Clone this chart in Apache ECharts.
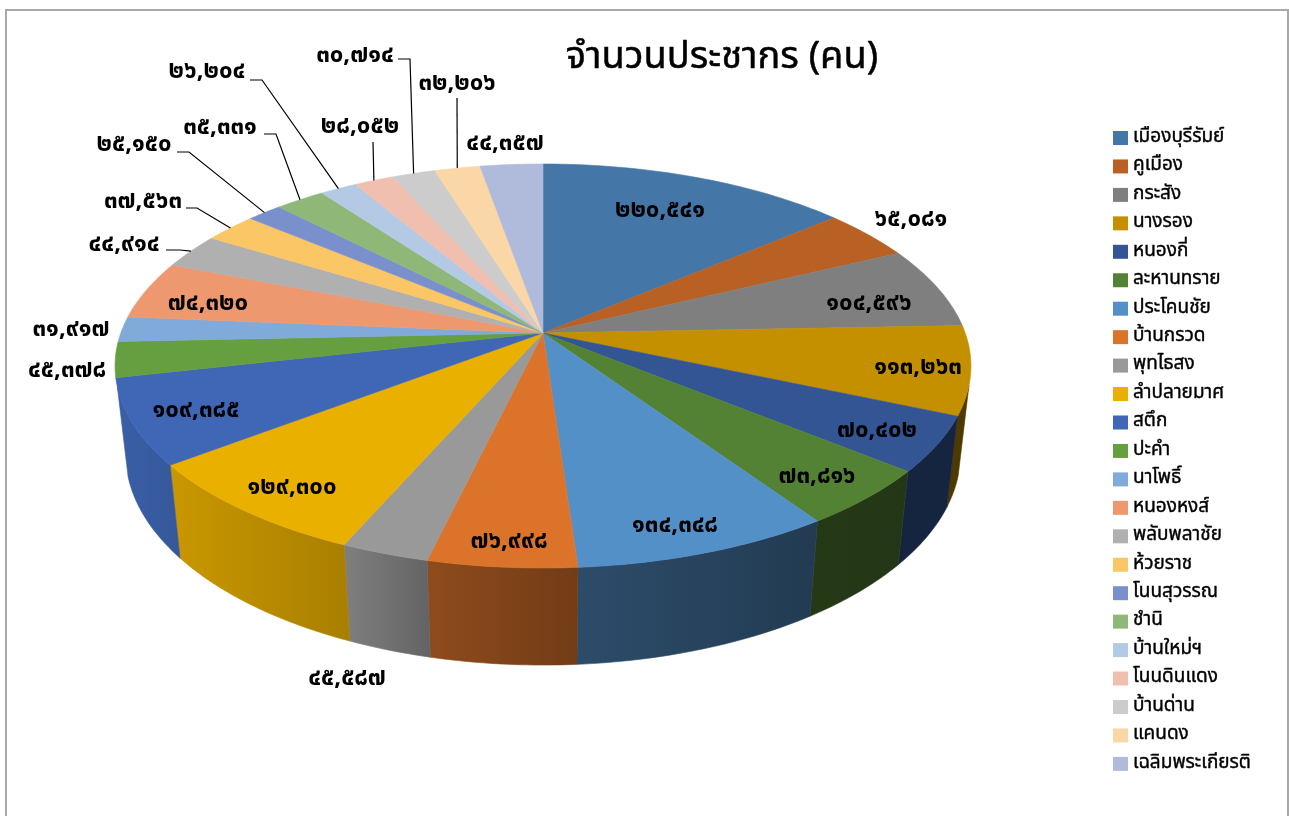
<!DOCTYPE html>
<html>
<head>
<meta charset="utf-8">
<style>
html, body { margin: 0; padding: 0; background: #fff; overflow: hidden; }
#chart { width: 1289px; height: 816px; }
</style>
<script src="https://cdn.jsdelivr.net/npm/echarts@6/dist/echarts.min.js"></script>
</head>
<body>
<div id="chart"></div>
<script>
const districts = ['เมืองบุรีรัมย์', 'คูเมือง', 'กระสัง', 'นางรอง', 'หนองกี่', 'ละหานทราย', 'ประโคนชัย', 'บ้านกรวด', 'พุทไธสง', 'ลำปลายมาศ', 'สตึก', 'ปะคำ', 'นาโพธิ์', 'หนองหงส์', 'พลับพลาชัย', 'ห้วยราช', 'โนนสุวรรณ', 'ชำนิ', 'บ้านใหม่ฯ', 'โนนดินแดง', 'บ้านด่าน', 'แคนดง', 'เฉลิมพระเกียรติ'];
const population = [220541, 65081, 104596, 113263, 70402, 73816, 134348, 76998, 45587, 129300, 109385, 45378, 31917, 74320, 44914, 37563, 25150, 35331, 26204, 28052, 30714, 32206, 44357];
const sliceColors = ['#4477A8', '#B96125', '#7F7F7F', '#C49000', '#335593', '#548235', '#5490C8', '#DC732B', '#999999', '#EAB000', '#3F67B5', '#669F40', '#7FAADA', '#EE9870', '#B0B0B0', '#FBC666', '#7A90CC', '#8FB878', '#B4C9E4', '#F0BFB0', '#CCCCCC', '#FBD6A6', '#B0BBDC'];

// wall brightness at the left and right end of each visible slice
const wallShades = { 3: [0.4, 0.4], 4: [0.43, 0.43], 5: [0.44, 0.42], 6: [0.53, 0.41], 7: [0.65, 0.52], 8: [0.83, 0.65], 9: [0.86, 0.72], 10: [0.92, 0.85] };

// data label centres, hand placed like the original
const labelPos = [[660, 212], [911, 221], [869, 305], [918, 369], [877, 432], [817, 478], [675, 527], [509, 543], [347, 680], [292, 489], [196, 412], [67, 372], [71, 331], [208, 305], [124, 246], [143, 203], [134, 146], [220, 129], [207, 73], [360, 128], [355, 57], [457, 85], [505, 145]];
const leaderStart = {
	14: [[166, 250], [180, 250]],
	15: [[186, 208], [197, 208]],
	16: [[177, 152], [189, 152]],
	17: [[264, 134], [276, 134]],
	18: [[250, 80], [262, 80]],
	19: [[373, 142]],
	20: [[398, 59], [410, 59]],
	21: [[457, 98]]
};

const FONT = '"Noto Sans Thai", "Noto Sans", "Liberation Sans", sans-serif';
const total = population.reduce((a, b) => a + b, 0);

// perspective of the tilted disc
const cx = 543, cy = 333;
const scaleX = 422.2, scaleY = 196.6, tilt = 0.1634;
const depthW = 0.0247, depthH = 89.4;
const wallFrom = 0.25;

const project = (angle, bottom) => {
	const u = Math.sin(angle), v = -Math.cos(angle);
	const w = 1 - tilt * v + (bottom ? depthW : 0);
	return [cx + scaleX * u / w, cy + (scaleY * v + (bottom ? depthH : 0)) / w];
};

const shade = (hex, f) => {
	const n = parseInt(hex.slice(1), 16);
	const c = [n >> 16, (n >> 8) & 255, n & 255].map((d) => Math.round(d * f));
	return 'rgb(' + c.join(',') + ')';
};

const toThai = (n) => n.toLocaleString('en-US').replace(/\d/g, (d) => String.fromCharCode(0x0e50 + Number(d)));

const startAngle = (i) => population.slice(0, i).reduce((a, b) => a + b, 0) / total * Math.PI * 2;

const renderSlice = (i) => (params, api) => {
	const a0 = startAngle(i);
	const a1 = a0 + api.value(0) / total * Math.PI * 2;
	const color = api.visual('color');
	const children = [];
	const step = Math.PI / 180;

	// top face
	const top = [[cx, cy]];
	for (let a = a0; a < a1; a += step) top.push(project(a));
	top.push(project(a1));
	children.push({
		type: 'polygon',
		shape: { points: top },
		style: { fill: color, stroke: color, lineWidth: 0.6 },
		z2: 10
	});

	// outer wall, only the part facing the viewer
	const angles = [];
	for (let a = a0; a < a1; a += step) if (-Math.cos(a) >= wallFrom) angles.push(a);
	if (-Math.cos(a1) >= wallFrom) angles.push(a1);
	if (angles.length > 1 && wallShades[i]) {
		const upper = angles.map((a) => project(a));
		const lower = angles.map((a) => project(a, true)).reverse();
		const pts = upper.concat(lower);
		const xs = pts.map((p) => p[0]);
		const [left, right] = wallShades[i];
		const from = shade(color, left), to = shade(color, right);
		const fill = {
			type: 'linear', x: Math.min(...xs), y: 0, x2: Math.max(...xs), y2: 0, global: true,
			colorStops: [{ offset: 0, color: from }, { offset: 1, color: to }]
		};
		children.push({
			type: 'polygon',
			shape: { points: pts },
			style: { fill: fill, stroke: fill, lineWidth: 0.6 },
			z2: 5
		});
	}

	// leader line to the middle of the rim
	if (leaderStart[i]) {
		children.push({
			type: 'polyline',
			shape: { points: leaderStart[i].concat([project((a0 + a1) / 2)]) },
			style: { fill: null, stroke: '#000', lineWidth: 1.2 },
			z2: 20
		});
	}

	children.push({
		type: 'text',
		style: {
			x: labelPos[i][0], y: labelPos[i][1],
			text: toThai(api.value(0)),
			font: 'bold 24px ' + FONT,
			fill: '#000',
			align: 'center',
			verticalAlign: 'middle'
		},
		z2: 30
	});
	return { type: 'group', children: children };
};

const myChart = echarts.init(document.getElementById('chart'), null, { renderer: 'canvas', devicePixelRatio: 1 });
const option = {
	animation: false,
	backgroundColor: '#fff',
	color: sliceColors,
	title: {
		text: 'จำนวนประชากร (คน)',
		left: 717,
		top: 36,
		textAlign: 'center',
		textStyle: { fontFamily: FONT, fontSize: 38, fontWeight: 'normal', color: '#000', textBorderColor: '#000', textBorderWidth: 0.5 }
	},
	legend: {
		orient: 'vertical',
		left: 1113,
		top: 128,
		padding: 0,
		itemWidth: 15,
		itemHeight: 14,
		itemGap: 8.45,
		icon: 'rect',
		selectedMode: false,
		data: districts,
		textStyle: { fontFamily: FONT, fontSize: 19, color: '#000', lineHeight: 20, textBorderColor: '#000', textBorderWidth: 0.4 }
	},
	graphic: [{
		type: 'rect',
		silent: true,
		shape: { x: 6, y: 10, width: 1282, height: 830 },
		style: { fill: 'none', stroke: '#a8a8a8', lineWidth: 2 }
	}],
	series: districts.map((name, i) => ({
		name: name,
		type: 'custom',
		coordinateSystem: 'none',
		silent: true,
		renderItem: renderSlice(i),
		data: [population[i]]
	}))
};
option && myChart.setOption(option);
</script>
</body>
</html>
